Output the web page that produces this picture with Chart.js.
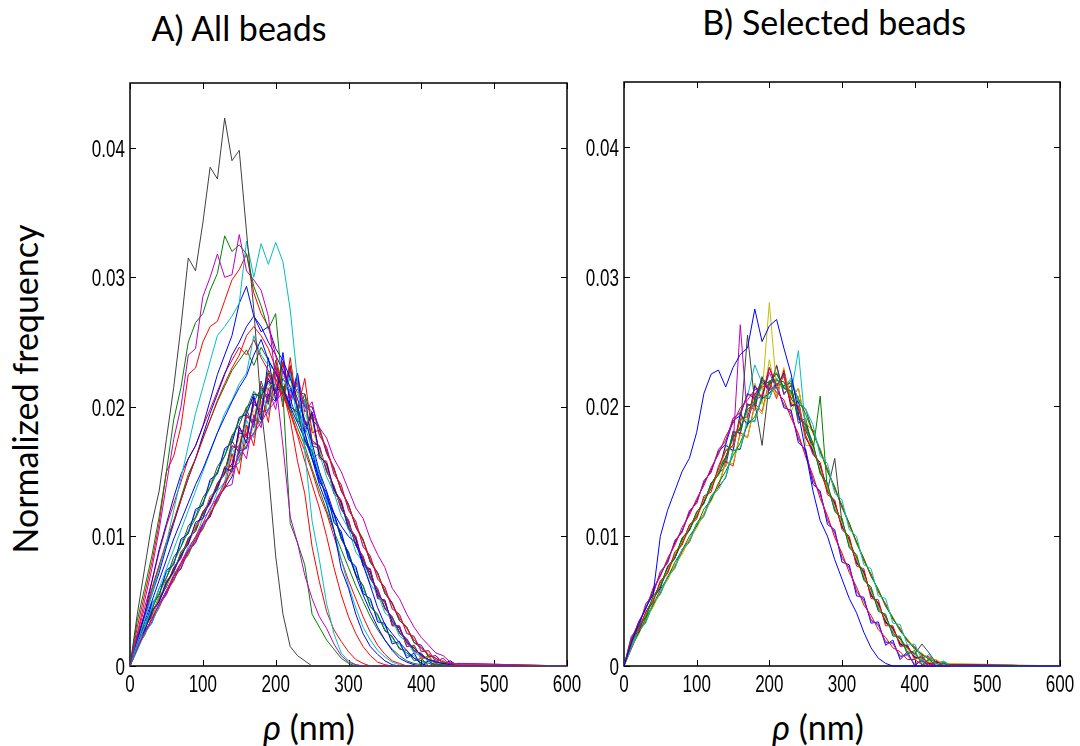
<!DOCTYPE html>
<html>
<head>
    <meta charset="utf-8">
    <script src="https://cdn.jsdelivr.net/npm/chart.js"></script>
    <title>Bead distributions</title>
    <style>
        body {
            margin: 0;
            width: 1080px;
            height: 746px;
            position: relative;
            overflow: hidden;
            background: #fff;
            font-family: Lato, "Open Sans", sans-serif;
            color: #000;
        }

        canvas {
            position: absolute;
        }

        .label {
            position: absolute;
            white-space: nowrap;
            font-size: 34px;
            line-height: 1;
        }
    </style>
</head>

<body>
    <div class="label" style="left:239px; top:11px; transform:translateX(-50%)">A) All beads</div>
    <div class="label" style="left:834px; top:5px; transform:translateX(-50%)">B) Selected beads</div>
    <div class="label" style="left:309px; top:710px; transform:translateX(-50%)"><i>ρ</i> (nm)</div>
    <div class="label" style="left:818px; top:710px; transform:translateX(-50%)"><i>ρ</i> (nm)</div>
    <div class="label" style="left:25px; top:389px; transform:translate(-50%,-50%) rotate(-90deg)">Normalized frequency</div>
    <canvas id="chartA" width="513" height="640" style="left:70px; top:70px"></canvas>
    <canvas id="chartB" width="513" height="640" style="left:564px; top:70px"></canvas>

    <script>
        // radial distance bins (nm) and tick values
        const xs = [0, 10, 20, 30, 40, 50, 60, 70, 80, 90,
            100, 110, 120, 130, 140, 150, 160, 170, 180, 190,
            200, 210, 220, 230, 240, 250, 260, 270, 280, 290,
            300, 310, 320, 330, 340, 350, 360, 370, 380, 390,
            400, 410, 420, 430, 440, 450, 600]
        const xTicks = [0, 100, 200, 300, 400, 500, 600]
        const yTicks = [0, 0.01, 0.02, 0.03, 0.04]
        const UNIT = 1e-4 // series values below are in units of 1e-4

        // A) all beads - outliers
        const aBlack = [0, 40, 75, 110, 135, 175, 215, 262, 315, 305, 342, 385, 376, 423, 390, 398, 335, 275, 200, 150, 85, 40, 15, 8, 4, 0, 0, 0, 0, 0, 0, 0, 0, 0, 0, 0, 0, 0, 0, 0, 0, 0, 0, 0, 0, 0, 0]
        const aMagentaHigh = [0, 25, 50, 75, 105, 140, 175, 200, 240, 245, 285, 300, 318, 300, 302, 333, 305, 298, 290, 270, 220, 170, 115, 95, 70, 52, 38, 29, 17, 8, 3, 1, 0, 0, 0, 0, 0, 0, 0, 0, 0, 0, 0, 0, 0, 0, 0]
        const aGreenHigh = [0, 35, 60, 85, 115, 150, 190, 215, 250, 265, 272, 290, 303, 332, 320, 325, 318, 293, 278, 260, 272, 210, 110, 95, 78, 40, 30, 20, 13, 6, 2, 0, 0, 0, 0, 0, 0, 0, 0, 0, 0, 0, 0, 0, 0, 0, 0]
        const aCyanHigh = [0, 18, 35, 55, 75, 95, 120, 145, 170, 195, 215, 235, 255, 262, 270, 280, 328, 300, 326, 310, 327, 312, 275, 220, 165, 112, 82, 48, 25, 10, 4, 1, 0, 0, 0, 0, 0, 0, 0, 0, 0, 0, 0, 0, 0, 0, 0]
        const aRedHigh = [0, 30, 55, 80, 110, 150, 162, 185, 225, 230, 250, 262, 266, 282, 298, 306, 318, 288, 272, 262, 240, 212, 190, 158, 133, 92, 65, 42, 28, 19, 11, 5, 2, 0, 0, 0, 0, 0, 0, 0, 0, 0, 0, 0, 0, 0, 0]
        const aBlueHigh = [0, 20, 40, 65, 90, 110, 130, 148, 160, 170, 185, 205, 225, 240, 255, 280, 293, 270, 262, 250, 240, 228, 215, 200, 180, 160, 140, 125, 105, 75, 60, 40, 25, 15, 9, 4, 1, 0, 0, 0, 0, 0, 0, 0, 0, 0, 0]
        const aBlueEarly = [0, 18, 34, 50, 66, 82, 98, 112, 126, 140, 152, 166, 180, 192, 204, 215, 224, 240, 252, 236, 226, 214, 200, 188, 175, 160, 145, 130, 118, 108, 100, 95, 78, 62, 45, 32, 25, 18, 12, 6, 2, 0, 0, 0, 0, 0, 0]
        const aRedEarly = [0, 22, 40, 60, 78, 96, 112, 128, 145, 160, 175, 190, 205, 218, 230, 240, 255, 262, 255, 245, 230, 212, 195, 178, 158, 140, 122, 100, 76, 55, 38, 25, 15, 8, 3, 1, 0, 0, 0, 0, 0, 0, 0, 0, 0, 0, 0]
        const aCyanEarly = [0, 16, 30, 45, 60, 75, 90, 105, 120, 135, 150, 165, 180, 195, 205, 218, 226, 255, 240, 232, 228, 222, 212, 200, 185, 168, 148, 128, 105, 82, 62, 45, 30, 20, 12, 7, 3, 1, 0, 0, 0, 0, 0, 0, 0, 0, 0]
        const aBlueMid = [0, 20, 38, 55, 72, 92, 110, 128, 145, 160, 178, 195, 210, 225, 240, 250, 262, 270, 258, 262, 245, 236, 222, 206, 190, 172, 150, 135, 118, 100, 86, 70, 55, 42, 30, 20, 12, 6, 3, 1, 0, 0, 0, 0, 0, 0, 0]
        const aRedMid = [0, 24, 45, 65, 88, 108, 125, 142, 160, 170, 185, 198, 212, 226, 236, 246, 240, 252, 238, 228, 222, 208, 196, 180, 166, 150, 132, 118, 100, 82, 66, 52, 38, 26, 16, 9, 4, 2, 0, 0, 0, 0, 0, 0, 0, 0, 0]
        const aGreenMid = [0, 22, 40, 58, 76, 94, 112, 130, 148, 160, 176, 190, 204, 216, 228, 236, 244, 232, 246, 236, 226, 212, 198, 184, 170, 152, 136, 120, 104, 90, 76, 62, 50, 38, 28, 20, 13, 8, 4, 2, 1, 0, 0, 0, 0, 0, 0]
        const aMagentaTail = [0, 14, 26, 36, 48, 58, 70, 80, 90, 100, 110, 122, 130, 142, 150, 162, 170, 180, 188, 198, 204, 212, 206, 214, 200, 196, 184, 176, 160, 150, 136, 122, 114, 98, 86, 76, 60, 52, 40, 30, 22, 16, 10, 8, 3, 1, 0]

        // A) all beads - main group
        const a01 = [0, 19, 27, 42, 50, 64, 73, 86, 94, 111, 114, 128, 137, 153, 150, 185, 172, 208, 190, 238, 205, 242, 200, 226, 180, 196, 162, 156, 136, 126, 107, 98, 80, 72, 55, 49, 34, 29, 18, 14, 8, 5, 3, 2, 1, 0, 0]
        const a02 = [0, 20, 31, 44, 56, 68, 80, 92, 104, 114, 126, 138, 150, 162, 176, 190, 198, 212, 206, 228, 214, 216, 196, 198, 172, 166, 150, 128, 118, 98, 88, 70, 62, 46, 39, 28, 22, 14, 10, 6, 4, 2, 1, 1, 0, 0, 0]
        const a03 = [0, 14, 26, 36, 48, 57, 69, 78, 90, 97, 110, 116, 131, 137, 164, 148, 186, 170, 210, 188, 230, 200, 238, 198, 222, 180, 182, 166, 152, 136, 124, 108, 97, 82, 71, 58, 48, 37, 29, 20, 14, 9, 6, 3, 2, 0, 0]
        const a04 = [0, 12, 25, 33, 47, 58, 70, 79, 92, 99, 114, 120, 135, 142, 168, 158, 190, 176, 214, 194, 232, 204, 226, 188, 206, 160, 164, 146, 134, 116, 106, 88, 80, 63, 56, 41, 36, 23, 19, 10, 8, 4, 3, 1, 1, 0, 0]
        const a05 = [0, 13, 25, 34, 46, 56, 67, 76, 88, 96, 107, 117, 128, 138, 140, 170, 160, 194, 184, 214, 198, 228, 208, 226, 196, 204, 178, 169, 148, 140, 120, 112, 92, 85, 67, 61, 44, 40, 25, 23, 11, 12, 3, 6, 0, 2, 0]
        const a06 = [0, 19, 30, 37, 54, 62, 72, 87, 94, 108, 114, 129, 136, 152, 160, 176, 183, 197, 203, 216, 219, 224, 216, 210, 194, 184, 166, 154, 135, 125, 108, 97, 80, 72, 55, 48, 34, 29, 17, 15, 6, 7, 1, 4, 0, 1, 0]
        const a07 = [0, 17, 31, 38, 54, 61, 76, 84, 99, 104, 119, 126, 141, 148, 174, 164, 198, 184, 220, 202, 236, 210, 232, 196, 210, 170, 168, 152, 138, 124, 110, 94, 82, 68, 57, 45, 37, 26, 19, 12, 9, 4, 3, 1, 1, 0, 0]
        const a08 = [0, 24, 28, 49, 54, 74, 78, 98, 102, 121, 124, 144, 148, 168, 172, 192, 194, 210, 208, 220, 212, 216, 200, 196, 174, 166, 142, 134, 111, 104, 82, 77, 56, 52, 34, 33, 17, 19, 6, 10, 0, 4, 0, 2, 0, 0, 0]
        const a09 = [0, 15, 24, 37, 46, 58, 66, 79, 86, 99, 106, 118, 127, 139, 153, 157, 175, 179, 196, 198, 214, 212, 222, 211, 210, 190, 184, 166, 152, 136, 124, 108, 98, 80, 72, 56, 48, 35, 30, 18, 14, 8, 6, 2, 2, 0, 0]
        const a10 = [0, 18, 29, 40, 53, 63, 75, 85, 97, 106, 119, 127, 141, 150, 152, 184, 176, 206, 194, 226, 210, 234, 206, 220, 184, 194, 164, 156, 133, 127, 106, 99, 78, 74, 53, 50, 32, 30, 15, 16, 5, 8, 1, 4, 0, 2, 0]
        const a11 = [0, 22, 30, 47, 56, 72, 80, 96, 104, 119, 126, 142, 150, 166, 174, 190, 196, 208, 210, 218, 214, 214, 202, 194, 176, 164, 144, 132, 113, 102, 84, 75, 58, 50, 36, 31, 19, 17, 8, 8, 2, 4, 0, 3, 0, 1, 0]
        const a12 = [0, 16, 30, 37, 53, 61, 76, 83, 98, 104, 118, 125, 140, 148, 170, 166, 194, 186, 216, 204, 232, 212, 228, 198, 206, 174, 170, 150, 139, 121, 112, 93, 84, 68, 59, 44, 38, 25, 21, 11, 10, 3, 5, 0, 3, 0, 0]
        const a13 = [0, 17, 23, 37, 44, 59, 65, 79, 85, 99, 105, 119, 126, 141, 148, 163, 170, 185, 191, 204, 208, 218, 216, 217, 204, 196, 179, 168, 149, 139, 121, 111, 93, 84, 68, 60, 45, 39, 26, 22, 12, 11, 4, 6, 1, 2, 0]
        const a14 = [0, 18, 34, 43, 60, 68, 84, 92, 108, 115, 130, 138, 154, 162, 178, 186, 200, 204, 214, 214, 218, 210, 206, 190, 180, 160, 148, 128, 117, 98, 88, 71, 62, 46, 40, 27, 23, 13, 12, 4, 6, 0, 3, 0, 1, 0, 0]
        const a15 = [0, 13, 27, 33, 48, 55, 69, 75, 89, 95, 109, 115, 130, 137, 146, 166, 168, 190, 188, 210, 204, 222, 212, 222, 200, 200, 183, 164, 153, 135, 125, 107, 97, 80, 72, 56, 49, 35, 30, 18, 16, 7, 8, 2, 4, 0, 0]
        const a16 = [0, 21, 27, 42, 50, 65, 72, 88, 95, 108, 117, 128, 139, 151, 170, 168, 194, 188, 214, 206, 230, 214, 226, 200, 204, 174, 169, 151, 138, 122, 111, 94, 83, 69, 58, 45, 37, 26, 20, 12, 9, 4, 4, 1, 2, 0, 0]
        const a17 = [0, 22, 28, 43, 50, 66, 72, 88, 94, 109, 114, 131, 136, 154, 154, 182, 178, 204, 196, 226, 212, 235, 206, 220, 186, 195, 160, 158, 136, 128, 108, 100, 80, 74, 54, 50, 32, 30, 17, 14, 7, 5, 2, 2, 0, 1, 0]
        const a18 = [0, 18, 29, 40, 50, 62, 73, 86, 95, 107, 117, 126, 139, 149, 156, 180, 178, 202, 198, 222, 210, 234, 206, 218, 186, 192, 164, 156, 133, 127, 105, 100, 77, 75, 52, 51, 31, 31, 15, 16, 6, 7, 1, 4, 0, 1, 0]
        const a19 = [0, 16, 30, 39, 52, 62, 75, 84, 97, 106, 118, 126, 140, 149, 168, 170, 192, 190, 214, 208, 232, 212, 230, 198, 206, 172, 170, 150, 139, 121, 113, 93, 85, 67, 60, 44, 38, 26, 21, 12, 9, 5, 3, 2, 2, 1, 0]

        // B) selected beads
        const b01 = [0, 18, 32, 45, 55, 100, 120, 135, 150, 160, 180, 210, 225, 228, 215, 230, 240, 245, 275, 250, 262, 267, 245, 225, 195, 165, 135, 112, 100, 82, 67, 52, 41, 26, 14, 6, 2, 0, 0, 0, 0, 0, 0, 0, 0, 0, 0]
        const b02 = [0, 17, 30, 38, 54, 61, 77, 83, 99, 104, 119, 125, 141, 147, 160, 178, 182, 200, 204, 220, 218, 226, 214, 212, 192, 186, 172, 148, 141, 119, 114, 91, 86, 66, 61, 42, 40, 23, 23, 9, 12, 1, 5, 0, 2, 0, 0]
        const b03 = [0, 20, 27, 42, 49, 66, 71, 88, 93, 109, 113, 131, 134, 154, 166, 170, 190, 192, 210, 208, 230, 216, 224, 202, 200, 178, 163, 157, 132, 128, 105, 100, 77, 75, 52, 51, 31, 31, 15, 16, 5, 8, 1, 4, 0, 1, 0]
        const b04 = [0, 14, 27, 33, 49, 55, 69, 75, 90, 95, 110, 115, 131, 136, 146, 166, 168, 190, 188, 210, 206, 222, 214, 222, 204, 198, 186, 162, 156, 133, 128, 105, 100, 78, 75, 54, 52, 33, 32, 16, 17, 5, 9, 1, 4, 0, 0]
        const b05 = [0, 22, 29, 48, 55, 73, 79, 97, 103, 120, 125, 143, 149, 167, 173, 191, 195, 209, 209, 219, 213, 215, 201, 195, 175, 165, 143, 133, 112, 103, 83, 76, 57, 51, 35, 32, 18, 18, 7, 9, 1, 4, 0, 2, 0, 0, 0]
        const b06 = [0, 18, 28, 40, 52, 63, 74, 86, 96, 107, 117, 128, 138, 150, 167, 169, 190, 190, 210, 209, 280, 214, 224, 203, 202, 177, 168, 152, 137, 123, 110, 95, 82, 70, 57, 46, 36, 27, 19, 13, 8, 5, 3, 2, 1, 0, 0]
        const b07 = [0, 18, 29, 40, 51, 64, 73, 86, 95, 108, 115, 128, 137, 151, 161, 176, 184, 255, 203, 170, 218, 220, 219, 206, 198, 181, 170, 150, 135, 160, 110, 96, 83, 69, 58, 45, 38, 26, 21, 14, 9, 17, 10, 2, 1, 0, 0]
        const b08 = [0, 19, 26, 41, 52, 60, 76, 83, 97, 105, 118, 126, 139, 150, 170, 166, 194, 186, 216, 206, 230, 214, 226, 200, 204, 176, 166, 154, 136, 125, 108, 97, 80, 72, 55, 48, 34, 29, 17, 15, 7, 6, 2, 3, 0, 1, 0]
        const b09 = [0, 15, 25, 37, 47, 59, 68, 80, 89, 100, 108, 121, 128, 141, 150, 162, 172, 186, 192, 206, 210, 218, 216, 218, 206, 194, 180, 166, 150, 138, 122, 110, 95, 83, 69, 59, 46, 37, 27, 20, 13, 9, 5, 3, 1, 0, 0]
        const b10 = [0, 21, 33, 44, 60, 69, 83, 93, 107, 116, 129, 139, 153, 163, 177, 187, 199, 205, 213, 215, 217, 211, 205, 191, 179, 161, 147, 129, 116, 99, 87, 72, 61, 47, 39, 28, 22, 14, 11, 5, 5, 1, 2, 0, 1, 0, 0]
        const b11 = [0, 16, 29, 38, 52, 62, 73, 86, 95, 107, 117, 126, 139, 150, 161, 175, 184, 196, 204, 215, 218, 221, 214, 210, 243, 182, 171, 149, 139, 120, 112, 92, 84, 67, 59, 43, 39, 24, 22, 10, 10, 3, 5, 0, 3, 0, 0]
        const b12 = [0, 19, 29, 41, 51, 64, 73, 86, 95, 108, 116, 129, 137, 151, 166, 169, 263, 190, 205, 208, 226, 214, 223, 201, 201, 176, 166, 154, 135, 125, 108, 97, 80, 72, 55, 48, 34, 29, 17, 15, 7, 6, 2, 3, 0, 1, 0]
        const b13 = [0, 15, 24, 36, 45, 58, 66, 78, 86, 98, 106, 118, 127, 140, 156, 156, 178, 176, 200, 194, 218, 208, 226, 208, 214, 188, 180, 167, 150, 138, 122, 110, 94, 83, 69, 59, 46, 38, 27, 21, 13, 10, 5, 5, 1, 2, 0]
        const b14 = [0, 17, 30, 39, 52, 62, 76, 84, 98, 105, 118, 126, 141, 148, 154, 181, 179, 202, 197, 223, 213, 231, 209, 217, 187, 191, 164, 155, 136, 126, 107, 98, 79, 73, 54, 48, 33, 30, 17, 14, 7, 5, 2, 2, 0, 0, 0]
        const b15 = [0, 19, 34, 44, 58, 70, 81, 95, 104, 118, 127, 141, 151, 165, 171, 189, 193, 210, 206, 222, 210, 218, 199, 197, 172, 167, 140, 135, 109, 105, 80, 78, 54, 53, 33, 34, 16, 20, 5, 11, 0, 5, 0, 3, 0, 1, 0]
        const b16 = [0, 17, 31, 37, 53, 62, 75, 84, 97, 105, 117, 127, 137, 152, 161, 176, 183, 198, 202, 217, 219, 225, 215, 211, 193, 185, 165, 208, 134, 126, 107, 98, 79, 73, 54, 49, 33, 30, 16, 16, 6, 7, 1, 4, 0, 1, 0]
        const b17 = [0, 13, 26, 34, 47, 56, 68, 76, 88, 96, 108, 116, 129, 138, 158, 154, 180, 176, 202, 196, 220, 206, 228, 206, 214, 186, 182, 165, 152, 136, 124, 108, 96, 81, 71, 57, 48, 36, 29, 19, 15, 8, 7, 3, 3, 1, 0]
        const b18 = [0, 23, 30, 47, 56, 72, 80, 96, 104, 119, 126, 142, 150, 166, 174, 190, 196, 208, 232, 218, 214, 214, 202, 194, 176, 164, 144, 132, 113, 102, 84, 75, 58, 50, 36, 31, 19, 17, 8, 8, 2, 4, 0, 3, 0, 1, 0]
        const b19 = [0, 21, 27, 41, 52, 62, 76, 84, 98, 106, 118, 126, 140, 149, 158, 180, 180, 202, 200, 222, 212, 232, 210, 216, 190, 188, 170, 150, 139, 121, 112, 93, 84, 68, 59, 44, 38, 25, 21, 11, 10, 3, 5, 0, 3, 0, 0]
        const b20 = [0, 16, 27, 39, 50, 62, 72, 84, 94, 105, 115, 126, 137, 148, 172, 164, 196, 184, 218, 202, 236, 208, 230, 196, 208, 170, 170, 150, 138, 122, 109, 96, 81, 71, 56, 47, 35, 28, 18, 14, 8, 5, 3, 2, 1, 0, 0]
        const b21 = [0, 14, 26, 35, 48, 56, 69, 77, 90, 97, 110, 117, 131, 138, 145, 166, 167, 188, 189, 207, 206, 221, 214, 220, 202, 198, 180, 167, 151, 137, 123, 110, 95, 82, 70, 58, 47, 37, 28, 20, 14, 9, 6, 3, 2, 1, 0]

        // matlab style line colours
        const colors = {
            b: '#0000ff', g: '#008000', r: '#ff0000', c: '#00bfbf',
            m: '#bf00bf', y: '#bfbf00', k: '#404040'
        }

        const panelA = [
            [aBlack, 'k'], [aMagentaHigh, 'm'], [aGreenHigh, 'g'], [aCyanHigh, 'c'],
            [aRedHigh, 'r'], [aBlueHigh, 'b'], [aBlueEarly, 'b'], [aRedEarly, 'r'], [aCyanEarly, 'c'],
            [aBlueMid, 'b'], [aRedMid, 'r'], [aGreenMid, 'g'], [aMagentaTail, 'm'],
            [a01, 'b'], [a02, 'g'], [a03, 'r'], [a04, 'c'], [a05, 'm'], [a06, 'y'], [a07, 'k'],
            [a08, 'b'], [a09, 'g'], [a10, 'r'], [a11, 'c'], [a12, 'm'], [a13, 'y'], [a14, 'k'],
            [a15, 'b'], [a16, 'g'], [a17, 'r'], [a18, 'b'], [a19, 'r']
        ]
        const panelB = [
            [b01, 'b'], [b02, 'g'], [b03, 'r'], [b04, 'c'], [b05, 'm'], [b06, 'y'], [b07, 'k'],
            [b08, 'b'], [b09, 'g'], [b10, 'r'], [b11, 'c'], [b12, 'm'], [b13, 'y'], [b14, 'k'],
            [b15, 'b'], [b16, 'g'], [b17, 'r'], [b18, 'c'], [b19, 'm'], [b20, 'y'], [b21, 'k']
        ]

        function tickText(v) {
            if (v === 0) return '0'
            return v < 1 ? v.toFixed(2) : String(v)
        }

        // condensed tick label, like the narrow helvetica of the original
        function drawLabel(ctx, text, x, y, align) {
            ctx.save()
            ctx.translate(x, y)
            ctx.scale(0.74, 1)
            ctx.textAlign = align
            ctx.fillText(text, 0, 0)
            ctx.restore()
        }

        // box round the plot with inward ticks on all four sides
        const framePlugin = {
            id: 'frame',
            beforeDatasetsDraw(chart) {
                const ctx = chart.ctx
                const a = chart.chartArea
                const x = chart.scales.x
                const y = chart.scales.y
                ctx.save()
                ctx.strokeStyle = '#000'
                ctx.lineWidth = 1.5
                ctx.strokeRect(a.left, a.top, a.right - a.left, a.bottom - a.top)
                ctx.lineWidth = 1
                ctx.beginPath()
                xTicks.forEach(function (v) {
                    const px = Math.round(x.getPixelForValue(v)) + 0.5
                    ctx.moveTo(px, a.bottom); ctx.lineTo(px, a.bottom - 6)
                    ctx.moveTo(px, a.top); ctx.lineTo(px, a.top + 6)
                })
                yTicks.forEach(function (v) {
                    const py = Math.round(y.getPixelForValue(v)) + 0.5
                    ctx.moveTo(a.left, py); ctx.lineTo(a.left + 6, py)
                    ctx.moveTo(a.right, py); ctx.lineTo(a.right - 6, py)
                })
                ctx.stroke()

                ctx.fillStyle = '#000'
                ctx.font = '23px "Liberation Sans", Arial, sans-serif'
                ctx.textBaseline = 'alphabetic'
                xTicks.forEach(function (v) {
                    drawLabel(ctx, tickText(v), x.getPixelForValue(v), a.bottom + 26, 'center')
                })
                yTicks.forEach(function (v) {
                    drawLabel(ctx, tickText(v), a.left - 5, y.getPixelForValue(v) + 9, 'right')
                })
                ctx.restore()
            }
        }

        function makePanel(id, series, padding) {
            return new Chart(document.getElementById(id), {
                type: 'line',
                data: {
                    datasets: series.map(function (s) {
                        return {
                            data: s[0].map(function (v, i) { return { x: xs[i], y: v * UNIT } }),
                            borderColor: colors[s[1]],
                            borderWidth: 1,
                            pointRadius: 0,
                            tension: 0,
                            fill: false,
                            clip: false
                        }
                    })
                },
                options: {
                    responsive: false,
                    animation: false,
                    events: [],
                    layout: { padding: padding },
                    plugins: { legend: { display: false }, tooltip: { enabled: false } },
                    scales: {
                        x: {
                            type: 'linear', min: 0, max: 600,
                            afterBuildTicks: function (axis) { axis.ticks = xTicks.map(v => ({ value: v })) },
                            afterFit: function (axis) {
                                axis.height = 34
                                axis.paddingLeft = 0
                                axis.paddingRight = 0
                            },
                            grid: { display: false },
                            border: { display: false },
                            ticks: { display: false }
                        },
                        y: {
                            type: 'linear', min: 0, max: 0.045,
                            afterBuildTicks: function (axis) { axis.ticks = yTicks.map(v => ({ value: v })) },
                            afterFit: function (axis) {
                                axis.width = 60
                                axis.paddingTop = 0
                                axis.paddingBottom = 0
                            },
                            grid: { display: false },
                            border: { display: false },
                            ticks: { display: false }
                        }
                    }
                },
                plugins: [framePlugin]
            })
        }

        makePanel('chartA', panelA, { left: 0, top: 13, right: 16, bottom: 10 })
        makePanel('chartB', panelB, { left: 0, top: 12, right: 17, bottom: 10 })
    </script>
</body>

</html>
